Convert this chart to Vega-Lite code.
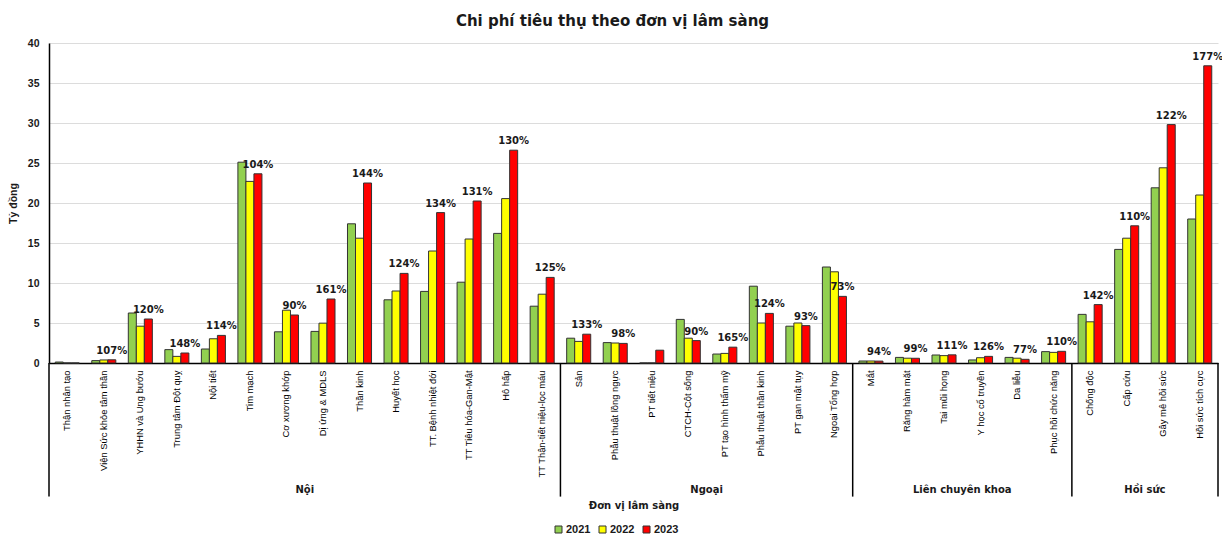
{
  "$schema": "https://vega.github.io/schema/vega-lite/v6.json",
  "width": 1169,
  "height": 320,
  "autosize": {"type": "none"},
  "padding": {"left": 49, "top": 43, "right": 4, "bottom": 180},
  "background": "white",
  "config": {
    "font": "Liberation Sans",
    "view": {"stroke": null},
    "axisY": {
      "values": [0, 5, 10, 15, 20, 25, 30, 35, 40],
      "ticks": false,
      "labelPadding": 10,
      "labelFontSize": 10.5,
      "labelFontWeight": "bold",
      "labelColor": "#1a1a1a",
      "domainColor": "#000000",
      "domainWidth": 1.5,
      "gridColor": "#dcdcdc",
      "gridWidth": 1,
      "titleFontSize": 10.5,
      "titleFontWeight": "bold",
      "titleColor": "#1a1a1a",
      "titlePadding": 9
    }
  },
  "title": {
    "text": "Chi phí tiêu thụ theo đơn vị lâm sàng",
    "font": "DejaVu Sans",
    "fontSize": 15,
    "fontWeight": "bold",
    "color": "#1a1a1a",
    "anchor": "middle",
    "dx": -21,
    "offset": 9
  },
  "datasets": {
    "costs": [
      {"dept": "Thận nhân tạo", "2021": 0.12, "2022": 0, "2023": 0},
      {"dept": "Viện Sức khỏe tâm thần", "2021": 0.3, "2022": 0.38, "2023": 0.4, "pct": "107%"},
      {"dept": "YHHN và Ung bướu", "2021": 6.25, "2022": 4.6, "2023": 5.5, "pct": "120%"},
      {"dept": "Trung tâm Đột quỵ", "2021": 1.67, "2022": 0.83, "2023": 1.25, "pct": "148%"},
      {"dept": "Nội tiết", "2021": 1.75, "2022": 3.03, "2023": 3.45, "pct": "114%"},
      {"dept": "Tim mạch", "2021": 25.1, "2022": 22.7, "2023": 23.65, "pct": "104%"},
      {"dept": "Cơ xương khớp", "2021": 3.9, "2022": 6.6, "2023": 6.0, "pct": "90%"},
      {"dept": "Dị ứng & MDLS", "2021": 3.95, "2022": 4.98, "2023": 8.0, "pct": "161%"},
      {"dept": "Thần kinh", "2021": 17.4, "2022": 15.6, "2023": 22.5, "pct": "144%"},
      {"dept": "Huyết học", "2021": 7.9, "2022": 9.0, "2023": 11.2, "pct": "124%"},
      {"dept": "TT. Bệnh nhiệt đới", "2021": 8.95, "2022": 14.0, "2023": 18.8, "pct": "134%"},
      {"dept": "TT Tiêu hóa-Gan-Mật", "2021": 10.1, "2022": 15.5, "2023": 20.25, "pct": "131%"},
      {"dept": "Hô hấp", "2021": 16.2, "2022": 20.55, "2023": 26.6, "pct": "130%"},
      {"dept": "TT Thận-tiết niệu-lọc máu", "2021": 7.1, "2022": 8.6, "2023": 10.7, "pct": "125%"},
      {"dept": "Sản", "2021": 3.1, "2022": 2.7, "2023": 3.6, "pct": "133%"},
      {"dept": "Phẫu thuật lồng ngực", "2021": 2.55, "2022": 2.5, "2023": 2.45, "pct": "98%"},
      {"dept": "PT tiết niệu", "2021": 0, "2022": 0, "2023": 1.6},
      {"dept": "CTCH-Cột sống", "2021": 5.45, "2022": 3.1, "2023": 2.8, "pct": "90%"},
      {"dept": "PT tạo hình thẩm mỹ", "2021": 1.12, "2022": 1.2, "2023": 1.98, "pct": "165%"},
      {"dept": "Phẫu thuật thần kinh", "2021": 9.6, "2022": 5.0, "2023": 6.2, "pct": "124%"},
      {"dept": "PT gan mật tụy", "2021": 4.6, "2022": 5.0, "2023": 4.67, "pct": "93%"},
      {"dept": "Ngoại Tổng hợp", "2021": 12.0, "2022": 11.4, "2023": 8.33, "pct": "73%"},
      {"dept": "Mắt", "2021": 0.25, "2022": 0.25, "2023": 0.235, "pct": "94%"},
      {"dept": "Răng hàm mặt", "2021": 0.7, "2022": 0.6, "2023": 0.59, "pct": "99%"},
      {"dept": "Tai mũi họng", "2021": 1.0, "2022": 0.92, "2023": 1.02, "pct": "111%"},
      {"dept": "Y học cổ truyền", "2021": 0.38, "2022": 0.66, "2023": 0.83, "pct": "126%"},
      {"dept": "Da liễu", "2021": 0.7, "2022": 0.6, "2023": 0.46, "pct": "77%"},
      {"dept": "Phục hồi chức năng", "2021": 1.42, "2022": 1.33, "2023": 1.46, "pct": "110%"},
      {"dept": "Chống độc", "2021": 6.08, "2022": 5.15, "2023": 7.3, "pct": "142%"},
      {"dept": "Cấp cứu", "2021": 14.2, "2022": 15.6, "2023": 17.15, "pct": "110%"},
      {"dept": "Gây mê hồi sức", "2021": 21.9, "2022": 24.4, "2023": 29.8, "pct": "122%"},
      {"dept": "Hồi sức tích cực", "2021": 18.0, "2022": 21.0, "2023": 37.15, "pct": "177%"}
    ],
    "groupStarts": [
      {"dept": "Thận nhân tạo"},
      {"dept": "Sản"},
      {"dept": "Mắt"},
      {"dept": "Chống độc"}
    ],
    "groupEnd": [{"dept": "Hồi sức tích cực"}],
    "groupNames": [
      {"group": "Nội", "dept": "Dị ứng & MDLS"},
      {"group": "Ngoại", "dept": "PT tạo hình thẩm mỹ"},
      {"group": "Liên chuyên khoa", "dept": "Y học cổ truyền"},
      {"group": "Hồi sức", "dept": "Gây mê hồi sức"}
    ]
  },
  "layer": [
    {
      "data": {"name": "costs"},
      "transform": [{"fold": ["2021", "2022", "2023"], "as": ["year", "value"]}],
      "mark": {"type": "bar", "stroke": "#333333", "strokeWidth": 1},
      "encoding": {
        "x": {
          "field": "dept",
          "type": "nominal",
          "sort": null,
          "scale": {"domain": ["Thận nhân tạo", "Viện Sức khỏe tâm thần", "YHHN và Ung bướu", "Trung tâm Đột quỵ", "Nội tiết", "Tim mạch", "Cơ xương khớp", "Dị ứng & MDLS", "Thần kinh", "Huyết học", "TT. Bệnh nhiệt đới", "TT Tiêu hóa-Gan-Mật", "Hô hấp", "TT Thận-tiết niệu-lọc máu", "Sản", "Phẫu thuật lồng ngực", "PT tiết niệu", "CTCH-Cột sống", "PT tạo hình thẩm mỹ", "Phẫu thuật thần kinh", "PT gan mật tụy", "Ngoại Tổng hợp", "Mắt", "Răng hàm mặt", "Tai mũi họng", "Y học cổ truyền", "Da liễu", "Phục hồi chức năng", "Chống độc", "Cấp cứu", "Gây mê hồi sức", "Hồi sức tích cực"], "paddingInner": 0, "paddingOuter": 0},
          "axis": {
            "title": "Đơn vị lâm sàng",
            "titleFont": "DejaVu Sans",
            "titleFontSize": 10,
            "titleFontWeight": "bold",
            "titleColor": "#1a1a1a",
            "titleY": 142,
            "titleBaseline": "middle",
            "labelAngle": -90,
            "labelFontSize": 9.4,
            "labelColor": "#000000",
            "labelPadding": 7,
            "labelLimit": 300,
            "ticks": false,
            "grid": false,
            "domainColor": "#000000",
            "domainWidth": 1.5
          }
        },
        "xOffset": {"field": "year", "type": "nominal", "scale": {"paddingInner": 0, "paddingOuter": 0.78}},
        "y": {
          "field": "value",
          "type": "quantitative",
          "scale": {"domain": [0, 40], "nice": false},
          "axis": {"title": "Tỷ đồng", "values": [0, 5, 10, 15, 20, 25, 30, 35, 40]}
        },
        "color": {
          "field": "year",
          "type": "nominal",
          "scale": {"domain": ["2021", "2022", "2023"], "range": ["#92D050", "#FFFF00", "#FF0000"]},
          "legend": {
            "orient": "none",
            "legendX": 504,
            "legendY": 481,
            "direction": "horizontal",
            "title": null,
            "symbolType": "square",
            "symbolSize": 49,
            "symbolStrokeColor": "#333333",
            "symbolStrokeWidth": 1,
            "labelFontSize": 11,
            "labelFontWeight": "bold",
            "labelColor": "#1a1a1a",
            "labelOffset": 2,
            "columnPadding": 6
          }
        }
      }
    },
    {
      "data": {"name": "costs"},
      "transform": [
        {"fold": ["2021", "2022", "2023"], "as": ["year", "value"]},
        {"filter": "datum.year === '2023' && isValid(datum.pct)"}
      ],
      "mark": {"type": "text", "font": "DejaVu Sans", "fontSize": 10, "fontWeight": "bold", "color": "#1a1a1a", "baseline": "middle", "dy": -9},
      "encoding": {
        "x": {"field": "dept", "type": "nominal", "sort": null},
        "xOffset": {"field": "year", "type": "nominal"},
        "y": {"field": "value", "type": "quantitative", "axis": {"title": "Tỷ đồng", "values": [0, 5, 10, 15, 20, 25, 30, 35, 40]}},
        "text": {"field": "pct"}
      }
    },
    {
      "data": {"name": "groupStarts"},
      "mark": {"type": "rule", "color": "#000000", "strokeWidth": 1.5},
      "encoding": {
        "x": {"field": "dept", "type": "nominal", "sort": null, "bandPosition": 0},
        "y": {"datum": 0, "axis": {"title": "Tỷ đồng", "values": [0, 5, 10, 15, 20, 25, 30, 35, 40]}},
        "y2": {"datum": -16.7}
      }
    },
    {
      "data": {"name": "groupEnd"},
      "mark": {"type": "rule", "color": "#000000", "strokeWidth": 1.5},
      "encoding": {
        "x": {"field": "dept", "type": "nominal", "sort": null, "bandPosition": 1},
        "y": {"datum": 0, "axis": {"title": "Tỷ đồng", "values": [0, 5, 10, 15, 20, 25, 30, 35, 40]}},
        "y2": {"datum": -16.7}
      }
    },
    {
      "data": {"name": "groupNames"},
      "mark": {"type": "text", "font": "DejaVu Sans", "fontSize": 10, "fontWeight": "bold", "color": "#1a1a1a", "baseline": "middle"},
      "encoding": {
        "x": {"field": "dept", "type": "nominal", "sort": null, "bandPosition": 0},
        "y": {"datum": -15.9, "axis": {"title": "Tỷ đồng", "values": [0, 5, 10, 15, 20, 25, 30, 35, 40]}},
        "text": {"field": "group"}
      }
    }
  ]
}
